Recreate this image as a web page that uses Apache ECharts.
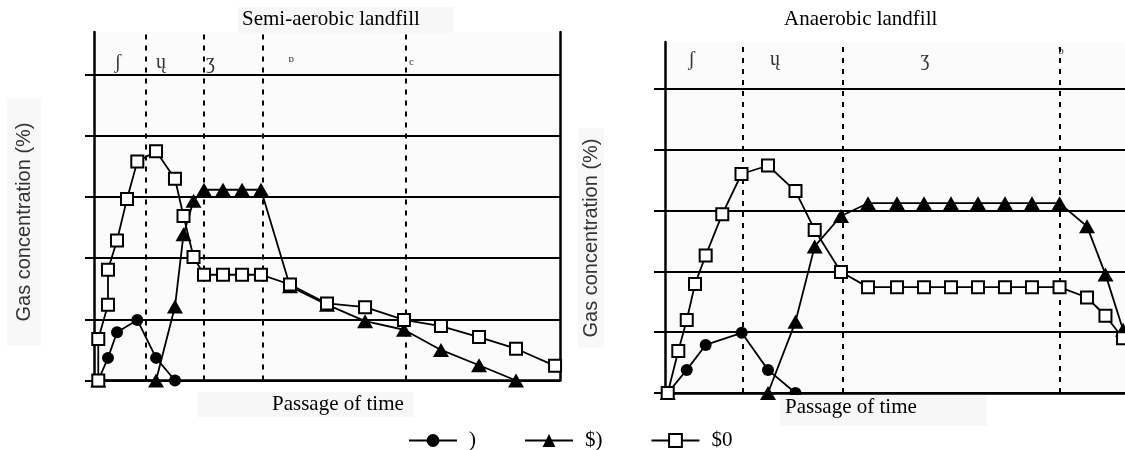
<!DOCTYPE html>
<html><head><meta charset="utf-8">
<script src="https://cdn.jsdelivr.net/npm/echarts@6/dist/echarts.min.js"></script>
<style>html,body{margin:0;padding:0;background:#fff}#c{width:1125px;height:450px}</style>
</head><body><div id="c"></div>
<script>
// ---- Semi-aerobic landfill (x = passage of time, arbitrary units; y = gas concentration, grid units)
const semiCircleX = [0.44, 1.44, 2.37, 4.46, 6.39, 8.34];
const semiCircleY = [0, 0.37, 0.79, 0.99, 0.37, 0];
const semiTriX = [0.44, 6.39, 8.34, 9.22, 10.25, 11.33, 13.29, 15.25, 17.2, 20.19, 24.0, 27.92, 31.93, 35.74, 39.66, 43.47];
const semiTriY = [0, 0, 1.21, 2.39, 2.94, 3.12, 3.12, 3.12, 3.12, 1.54, 1.24, 0.97, 0.83, 0.50, 0.25, 0];
const semiSqX = [0.44, 0.44, 1.44, 1.44, 2.37, 3.40, 4.46, 6.39, 8.34, 9.22, 10.25, 11.33, 13.29, 15.25, 17.2, 20.19, 24.0, 27.92, 31.93, 35.74, 39.66, 43.47, 47.49];
const semiSqY = [0, 0.68, 1.24, 1.81, 2.29, 2.97, 3.58, 3.75, 3.30, 2.69, 2.02, 1.73, 1.73, 1.73, 1.73, 1.57, 1.26, 1.20, 0.99, 0.89, 0.71, 0.52, 0.24];
const semiPhaseBounds = [5.36, 11.33, 17.34, 32.1];
const semiPhaseLabels = ['ʃ', 'ų', 'ʒ', 'ɒ', 'c'];
const semiPhaseLabelX = [2.46, 6.9, 12.0, 20.3, 32.7];
const semiPhaseLabelY = [5.2, 5.2, 5.2, 5.25, 5.2];

// ---- Anaerobic landfill
const anaCircleX = [0.28, 2.24, 4.19, 7.90, 10.61, 13.44];
const anaCircleY = [0, 0.38, 0.79, 0.99, 0.38, 0];
const anaTriX = [0.28, 10.61, 13.44, 15.42, 18.13, 20.91, 23.90, 26.68, 29.46, 32.24, 35.02, 37.80, 40.64, 43.47, 45.37, 47.18];
const anaTriY = [0, 0, 1.17, 2.41, 2.91, 3.12, 3.12, 3.12, 3.12, 3.12, 3.12, 3.12, 3.12, 2.74, 1.95, 1.04];
const anaSqX = [0.28, 1.37, 2.24, 3.09, 4.19, 5.90, 7.88, 10.61, 13.44, 15.42, 18.13, 20.91, 23.90, 26.68, 29.46, 32.24, 35.02, 37.80, 40.64, 43.47, 45.37, 47.18];
const anaSqY = [0, 0.69, 1.20, 1.79, 2.26, 2.94, 3.60, 3.74, 3.32, 2.68, 1.99, 1.74, 1.74, 1.74, 1.74, 1.74, 1.74, 1.74, 1.74, 1.57, 1.27, 0.90];
const anaPhaseBounds = [8.03, 18.34, 40.64];
const anaPhaseLabels = ['ʃ', 'ų', 'ʒ', 'ƅ'];
const anaPhaseLabelX = [2.75, 11.33, 26.78, 40.8];
const anaPhaseLabelY = [5.48, 5.48, 5.48, 5.62];

// ---- shared text
const seriesNames = [')', '$)', '$0'];
const yTicks = [0, 1, 2, 3, 4, 5];
const titles = ['Semi-aerobic landfill', 'Anaerobic landfill'];
const xTitle = 'Passage of time';
const yTitle = 'Gas concentration (%)';

const SERIF = "'Liberation Serif','Times New Roman',serif";
const SANS = "'Liberation Sans',Arial,sans-serif";
const pairs = (xs, ys) => xs.map((x, i) => [x, ys[i]]);

const markerStyles = [
  { symbol: 'circle', symbolSize: 12, itemStyle: { color: '#000' } },
  { symbol: 'triangle', symbolSize: [16, 14], itemStyle: { color: '#000' } },
  { symbol: 'rect', symbolSize: 12, itemStyle: { color: '#fff', borderColor: '#000', borderWidth: 2 } }
];

function lineSeries(k, gi, xs, ys) {
  return Object.assign({
    type: 'line', name: seriesNames[k], xAxisIndex: gi, yAxisIndex: gi === 0 ? 0 : 2,
    data: pairs(xs, ys), showAllSymbol: true, silent: true, z: 3 + k,
    lineStyle: { color: '#000', width: 1.8 }
  }, JSON.parse(JSON.stringify(markerStyles[k])));
}

function phaseSeries(gi, labels, lx, ly, bounds) {
  return {
    type: 'scatter', name: 'phase' + gi, xAxisIndex: gi, yAxisIndex: gi === 0 ? 0 : 2,
    symbolSize: 1, itemStyle: { color: 'rgba(0,0,0,0)' }, silent: true, z: 2,
    data: labels.map((t, i) => ({
      name: t, value: [lx[i], ly[i]],
      label: { fontSize: i >= 3 ? 11 : 20 }
    })),
    label: { show: true, position: 'inside', formatter: '{b}', color: '#000', fontFamily: SERIF },
    markLine: {
      silent: true, symbol: ['none', 'none'], label: { show: false },
      lineStyle: { type: [5, 6], color: '#000', width: 2 },
      data: bounds.map(v => ({ xAxis: v }))
    }
  };
}

function xAx(gi) {
  return {
    type: 'value', gridIndex: gi, min: 0, max: 48,
    axisLine: { show: true, onZero: false, lineStyle: { color: '#000', width: 2.5 } },
    axisTick: { show: false }, axisLabel: { show: false }, splitLine: { show: false }
  };
}
function yAx(gi, max) {
  return {
    type: 'value', gridIndex: gi, min: 0, max: max,
    axisLine: { show: true, onZero: false, lineStyle: { color: '#000', width: 2.5 } },
    axisTick: { show: true, length: gi === 0 ? 9 : 11, customValues: yTicks, lineStyle: { color: '#000', width: 2 } },
    axisLabel: { show: false, customValues: yTicks },
    splitLine: { show: true, lineStyle: { color: '#000', width: 2 } }
  };
}

const titleText = { fontFamily: SERIF, fontSize: 21, fontWeight: 'normal', color: '#000' };

const option = {
  animation: false,
  backgroundColor: '#fff',
  title: [
    { text: titles[0], left: 238, top: 7, padding: [2, 34, 3, 4], backgroundColor: '#f7f7f7', textStyle: titleText },
    { text: titles[1], left: 782, top: 7, padding: [2, 4, 3, 2], textStyle: titleText },
    { text: xTitle, left: 197, top: 392, padding: [2, 10, 2, 75], backgroundColor: '#f7f7f7', textStyle: titleText },
    { text: xTitle, left: 780, top: 395, padding: [2, 70, 8, 5], backgroundColor: '#f7f7f7', textStyle: titleText }
  ],
  legend: {
    data: seriesNames, left: 403, top: 425, itemWidth: 48, itemHeight: 16, itemGap: 48,
    selectedMode: false,
    textStyle: { fontFamily: SERIF, fontSize: 21, color: '#000', padding: [0, 0, 0, 7] }
  },
  grid: [
    { left: 94, right: 565, top: 32, bottom: 69.5, show: true, backgroundColor: '#fbfbfb', borderWidth: 0, outerBoundsMode: 'none' },
    { left: 665, right: -6, top: 42, bottom: 57, show: true, backgroundColor: '#fbfbfb', borderWidth: 0, outerBoundsMode: 'none' }
  ],
  xAxis: [xAx(0), xAx(1)],
  yAxis: [
    yAx(0, 5.70),
    { type: 'value', gridIndex: 0, position: 'right', min: 0, max: 5.70,
      axisLine: { show: true, onZero: false, lineStyle: { color: '#000', width: 2.5 } },
      axisTick: { show: false }, axisLabel: { show: false }, splitLine: { show: false } },
    yAx(1, 5.77)
  ],
  graphic: [
    { type: 'text', x: 24, y: 222, rotation: Math.PI / 2, z: 10,
      style: { text: yTitle, font: '20px ' + SANS, fill: '#333', align: 'center', verticalAlign: 'middle',
               backgroundColor: '#f8f8f8', padding: [7, 24] } },
    { type: 'text', x: 591, y: 238, rotation: Math.PI / 2, z: 10,
      style: { text: yTitle, font: '20px ' + SANS, fill: '#333', align: 'center', verticalAlign: 'middle',
               backgroundColor: '#f8f8f8', padding: [3, 10] } }
  ],
  series: [
    phaseSeries(0, semiPhaseLabels, semiPhaseLabelX, semiPhaseLabelY, semiPhaseBounds),
    lineSeries(0, 0, semiCircleX, semiCircleY),
    lineSeries(1, 0, semiTriX, semiTriY),
    lineSeries(2, 0, semiSqX, semiSqY),
    phaseSeries(1, anaPhaseLabels, anaPhaseLabelX, anaPhaseLabelY, anaPhaseBounds),
    lineSeries(0, 1, anaCircleX, anaCircleY),
    lineSeries(1, 1, anaTriX, anaTriY),
    lineSeries(2, 1, anaSqX, anaSqY)
  ]
};

const chart = echarts.init(document.getElementById('c'), null, { renderer: 'canvas' });
chart.setOption(option);
</script>
</body></html>
